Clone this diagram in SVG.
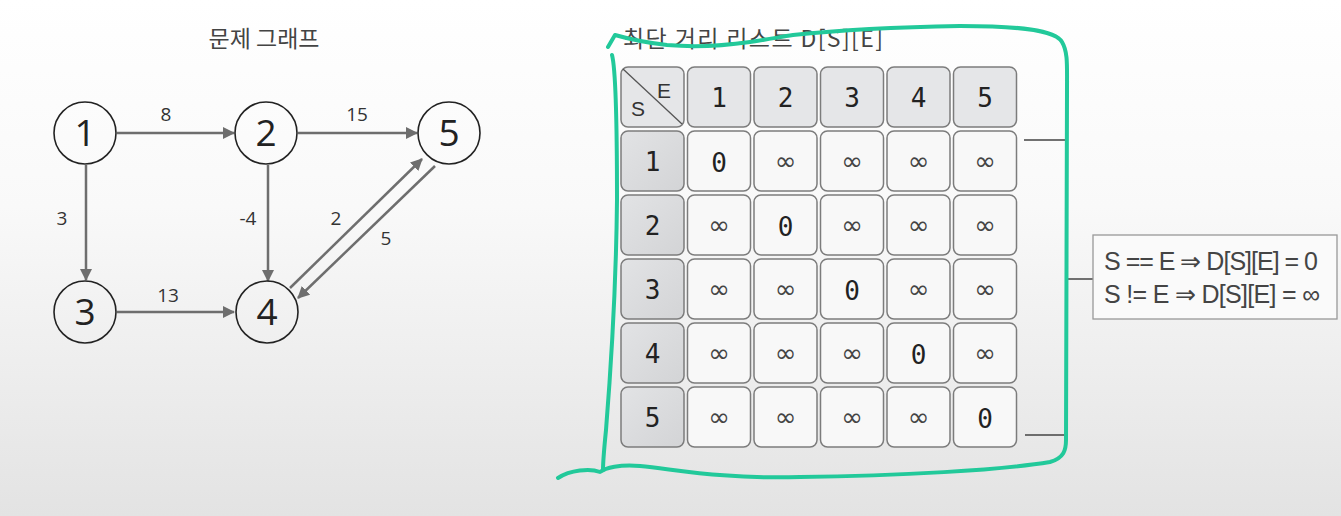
<svg xmlns="http://www.w3.org/2000/svg" width="1341" height="516" viewBox="0 0 1341 516">
<defs>
<linearGradient id="bg" x1="0" y1="0" x2="0" y2="1">
<stop offset="0" stop-color="#ffffff"/>
<stop offset="0.4" stop-color="#f9f9f9"/>
<stop offset="1" stop-color="#e3e3e3"/>
</linearGradient>
<linearGradient id="side" x1="0" y1="0" x2="1" y2="1">
<stop offset="0" stop-color="#e2e3e5"/>
<stop offset="1" stop-color="#d3d4d6"/>
</linearGradient>
<marker id="ah" viewBox="0 0 12 12" refX="11" refY="6" markerWidth="12" markerHeight="12" markerUnits="userSpaceOnUse" orient="auto">
<path d="M0,0 L12,6 L0,12 Z" fill="#6e6e6e"/>
</marker>
<style>
.node circle{fill:none;stroke:#222;stroke-width:1.6}
.node text{font-family:"Open Sans","Noto Sans",sans-serif;font-size:37px;fill:#222;text-anchor:middle}
.edge{stroke:#6e6e6e;stroke-width:2.5;fill:none;marker-end:url(#ah)}
.elab{font-family:"Open Sans","Noto Sans",sans-serif;font-size:19px;fill:#333;text-anchor:middle}
.title{font-family:"Noto Sans CJK KR",sans-serif;font-size:23px;fill:#444}
.cell rect{stroke:#7c7c7c;stroke-width:1.5}
.hd{fill:#e5e6e8}
.sd{fill:url(#side)}
.dt{fill:#f8f8f8}
.num{font-family:"DejaVu Sans Mono",monospace;font-size:26px;fill:#222;text-anchor:middle}
.inf{font-family:"DejaVu Sans",sans-serif;font-size:26px;fill:#444;text-anchor:middle}
.br{stroke:#444;stroke-width:1.5;fill:none}
.green{stroke:#22c99a;stroke-width:4;fill:none;stroke-linecap:round;stroke-linejoin:round}
.note{font-family:"Liberation Sans",Arial,sans-serif;font-size:25px;fill:#444}
.se{font-family:"Liberation Sans",Arial,sans-serif;font-size:21px;fill:#333;text-anchor:middle}
</style>
</defs>
<rect x="0" y="0" width="1341" height="516" fill="url(#bg)"/>

<text class="title" x="264" y="47" text-anchor="middle">문제 그래프</text>

<g id="connectors">
<line class="edge" x1="117" y1="133" x2="234" y2="133"/>
<line class="edge" x1="298" y1="133" x2="417" y2="133"/>
<line class="edge" x1="86" y1="165" x2="86" y2="280"/>
<line class="edge" x1="268" y1="165" x2="268" y2="281"/>
<line class="edge" x1="117" y1="312" x2="234" y2="312"/>
<line class="edge" x1="290" y1="288" x2="422" y2="159"/>
<line class="edge" x1="435" y1="166" x2="298" y2="298"/>
<text class="elab" x="166" y="121">8</text>
<text class="elab" x="357" y="121">15</text>
<text class="elab" x="62" y="225">3</text>
<text class="elab" x="248" y="225">-4</text>
<text class="elab" x="336" y="225">2</text>
<text class="elab" x="386" y="245">5</text>
<text class="elab" x="168" y="302">13</text>
</g>

<g id="node1" class="node"><circle cx="85" cy="133" r="31"/><text x="85" y="146">1</text></g>
<g id="node2" class="node"><circle cx="266" cy="133" r="31"/><text x="266" y="146">2</text></g>
<g id="node5" class="node"><circle cx="449" cy="133" r="31"/><text x="449" y="146">5</text></g>
<g id="node3" class="node"><circle cx="85" cy="312" r="31"/><text x="85" y="325">3</text></g>
<g id="node4" class="node"><circle cx="267" cy="312" r="31"/><text x="267" y="325">4</text></g>

<text class="title" x="623" y="47" font-size="22" textLength="260" fill="#555">최단 거리 리스트 D[S][E]</text>

<g id="table">
<g id="corner" class="cell">
<rect class="hd" x="621" y="67" width="63" height="60" rx="7"/>
<line x1="623" y1="69" x2="682" y2="124" stroke="#555" stroke-width="1.3"/>
<text class="se" x="664" y="98">E</text>
<text class="se" x="638" y="116">S</text>
</g>
<g id="hdr" class="cell">
<rect class="hd" x="687.5" y="67" width="63" height="60" rx="7"/><text class="num" x="719" y="107">1</text>
<rect class="hd" x="754" y="67" width="63" height="60" rx="7"/><text class="num" x="785.5" y="107">2</text>
<rect class="hd" x="820.5" y="67" width="63" height="60" rx="7"/><text class="num" x="852" y="107">3</text>
<rect class="hd" x="887" y="67" width="63" height="60" rx="7"/><text class="num" x="918.5" y="107">4</text>
<rect class="hd" x="953.5" y="67" width="63" height="60" rx="7"/><text class="num" x="985" y="107">5</text>
</g>
<g id="row1" class="cell">
<rect class="sd" x="621" y="131" width="63" height="60" rx="7"/><text class="num" x="652.5" y="171">1</text>
<rect class="dt" x="687.5" y="131" width="63" height="60" rx="7"/><text class="num" x="719" y="172">0</text>
<rect class="dt" x="754" y="131" width="63" height="60" rx="7"/><text class="inf" x="785.5" y="170">∞</text>
<rect class="dt" x="820.5" y="131" width="63" height="60" rx="7"/><text class="inf" x="852" y="170">∞</text>
<rect class="dt" x="887" y="131" width="63" height="60" rx="7"/><text class="inf" x="918.5" y="170">∞</text>
<rect class="dt" x="953.5" y="131" width="63" height="60" rx="7"/><text class="inf" x="985" y="170">∞</text>
</g>
<g id="row2" class="cell">
<rect class="sd" x="621" y="195" width="63" height="60" rx="7"/><text class="num" x="652.5" y="235">2</text>
<rect class="dt" x="687.5" y="195" width="63" height="60" rx="7"/><text class="inf" x="719" y="234">∞</text>
<rect class="dt" x="754" y="195" width="63" height="60" rx="7"/><text class="num" x="785.5" y="236">0</text>
<rect class="dt" x="820.5" y="195" width="63" height="60" rx="7"/><text class="inf" x="852" y="234">∞</text>
<rect class="dt" x="887" y="195" width="63" height="60" rx="7"/><text class="inf" x="918.5" y="234">∞</text>
<rect class="dt" x="953.5" y="195" width="63" height="60" rx="7"/><text class="inf" x="985" y="234">∞</text>
</g>
<g id="row3" class="cell">
<rect class="sd" x="621" y="259" width="63" height="60" rx="7"/><text class="num" x="652.5" y="299">3</text>
<rect class="dt" x="687.5" y="259" width="63" height="60" rx="7"/><text class="inf" x="719" y="298">∞</text>
<rect class="dt" x="754" y="259" width="63" height="60" rx="7"/><text class="inf" x="785.5" y="298">∞</text>
<rect class="dt" x="820.5" y="259" width="63" height="60" rx="7"/><text class="num" x="852" y="300">0</text>
<rect class="dt" x="887" y="259" width="63" height="60" rx="7"/><text class="inf" x="918.5" y="298">∞</text>
<rect class="dt" x="953.5" y="259" width="63" height="60" rx="7"/><text class="inf" x="985" y="298">∞</text>
</g>
<g id="row4" class="cell">
<rect class="sd" x="621" y="323" width="63" height="60" rx="7"/><text class="num" x="652.5" y="363">4</text>
<rect class="dt" x="687.5" y="323" width="63" height="60" rx="7"/><text class="inf" x="719" y="362">∞</text>
<rect class="dt" x="754" y="323" width="63" height="60" rx="7"/><text class="inf" x="785.5" y="362">∞</text>
<rect class="dt" x="820.5" y="323" width="63" height="60" rx="7"/><text class="inf" x="852" y="362">∞</text>
<rect class="dt" x="887" y="323" width="63" height="60" rx="7"/><text class="num" x="918.5" y="364">0</text>
<rect class="dt" x="953.5" y="323" width="63" height="60" rx="7"/><text class="inf" x="985" y="362">∞</text>
</g>
<g id="row5" class="cell">
<rect class="sd" x="621" y="387" width="63" height="60" rx="7"/><text class="num" x="652.5" y="427">5</text>
<rect class="dt" x="687.5" y="387" width="63" height="60" rx="7"/><text class="inf" x="719" y="426">∞</text>
<rect class="dt" x="754" y="387" width="63" height="60" rx="7"/><text class="inf" x="785.5" y="426">∞</text>
<rect class="dt" x="820.5" y="387" width="63" height="60" rx="7"/><text class="inf" x="852" y="426">∞</text>
<rect class="dt" x="887" y="387" width="63" height="60" rx="7"/><text class="inf" x="918.5" y="426">∞</text>
<rect class="dt" x="953.5" y="387" width="63" height="60" rx="7"/><text class="num" x="985" y="428">0</text>
</g>
</g>

<g id="bracket">
<path class="br" d="M1024,140 H1066 V435 H1025 M1066,279 H1093"/>
</g>

<g id="note">
<rect x="1093" y="235" width="244" height="84" fill="#fafafa" stroke="#999" stroke-width="1.3"/>
<text class="note" x="1104" y="270" textLength="214">S == E ⇒ D[S][E] = 0</text>
<text class="note" x="1104" y="303" textLength="216">S != E ⇒ D[S][E] = ∞</text>
</g>

<g id="annotation">
<path class="green" d="M608,47 L615,35 C622,37 640,42 667,45 C690,47 715,47 750,42 C770,39 780,37 793,35 C840,30 900,27 960,26 C1020,26 1055,30 1062,42 C1068,52 1067,65 1067,90 L1066,440 C1066,450 1064,458 1050,462 C1000,470 900,476 800,477 C720,479 680,470 640,466 C620,464 605,468 600,472 C590,468 570,470 558,478"/>
<path class="green" d="M612,55 C616,70 617,120 617,200 C616,300 610,380 606,430 C604,450 603,462 603,470"/>
</g>
</svg>
